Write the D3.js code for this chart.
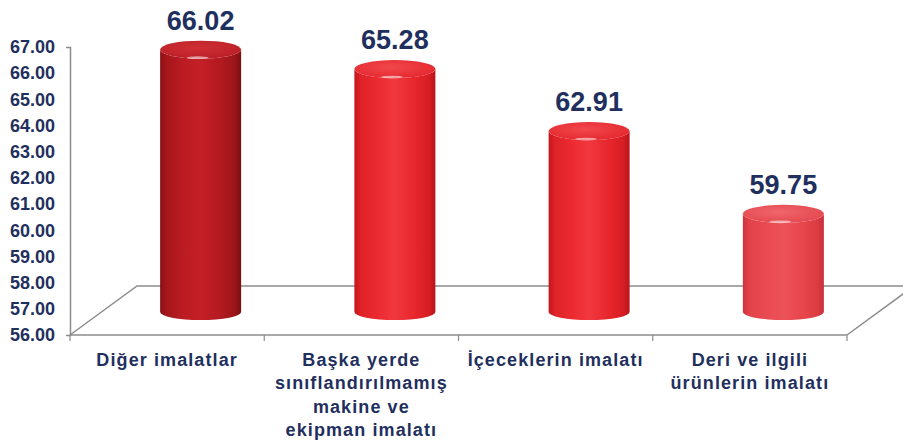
<!DOCTYPE html>
<html>
<head>
<meta charset="utf-8">
<script src="https://cdn.jsdelivr.net/npm/d3@7"></script>
<style>
  body { margin: 0; background: #ffffff; }
  text { font-family: "Liberation Sans", Arial, sans-serif; font-weight: bold; fill: #1f2f5e; }
</style>
</head>
<body>
<div id="chart_area"></div>
<script>

// chart data
var categories = ["Diğer imalatlar", "Başka yerde sınıflandırılmamış makine ve ekipman imalatı", "İçeceklerin imalatı", "Deri ve ilgili ürünlerin imalatı"];
var categoryLines = [
    ["Diğer imalatlar"],
    ["Başka yerde", "sınıflandırılmamış", "makine ve", "ekipman imalatı"],
    ["İçeceklerin imalatı"],
    ["Deri ve ilgili", "ürünlerin imalatı"]
];
var values = [66.02, 65.28, 62.91, 59.75];
var yTicks = [56, 57, 58, 59, 60, 61, 62, 63, 64, 65, 66, 67];
var barColors = ["dark", "red", "red", "light"];

var width = 903,
    height = 444;

var svg = d3.select("#chart_area").append("svg")
    .attr("width", width)
    .attr("height", height);

// plot area (front plane)
var plotLeft = 70, plotRight = 847, plotTop = 47, plotBottom = 335;
// 3d depth of the floor
var depthX = 67, depthY = 49;

var x = d3.scaleBand()
    .domain(d3.range(categories.length))
    .range([plotLeft, plotRight]);

var y = d3.scaleLinear()
    .domain([56, 67])
    .range([plotBottom, plotTop]);

// gradients for the cylinders
var palettes = {
    dark:  { side: ["#8a1115", "#a5161c", "#bd1c23", "#c31f26", "#b21a20", "#9b151a", "#7c0e12"], top: ["#cf3036", "#b81d23"] },
    red:   { side: ["#c4161c", "#de2329", "#ec2b31", "#f0383e", "#e7262c", "#d71e24", "#b8151a"], top: ["#f2484d", "#e2252b"] },
    light: { side: ["#cf333a", "#e2424a", "#ea4b52", "#ed5259", "#e8454c", "#dc3b42", "#c6313a"], top: ["#f0666c", "#e2444b"] }
};
var stopOffsets = [0, 0.08, 0.3, 0.5, 0.75, 0.92, 1];

var defs = svg.append("defs");
Object.keys(palettes).forEach(function(key) {
    var g = defs.append("linearGradient")
        .attr("id", "side_" + key)
        .attr("x1", 0).attr("x2", 1).attr("y1", 0).attr("y2", 0);
    palettes[key].side.forEach(function(c, i) {
        g.append("stop").attr("offset", stopOffsets[i]).attr("stop-color", c);
    });
    var r = defs.append("radialGradient")
        .attr("id", "top_" + key)
        .attr("cx", 0.45).attr("cy", 0.4).attr("r", 0.7);
    r.append("stop").attr("offset", 0).attr("stop-color", palettes[key].top[0]);
    r.append("stop").attr("offset", 1).attr("stop-color", palettes[key].top[1]);
});

//draw floor
var floor = svg.append("g")
    .attr("class", "floor")
    .style("fill", "none")
    .style("stroke", "#8c8c8c")
    .style("stroke-width", 1.5);

floor.append("path")
    .attr("d", "M" + plotLeft + "," + plotBottom +
        "L" + (plotLeft + depthX) + "," + (plotBottom - depthY) +
        "L" + (plotRight + depthX) + "," + (plotBottom - depthY) +
        "L" + plotRight + "," + plotBottom);

// x axis along the front edge of the floor
var xAxis = svg.append("g")
    .attr("transform", "translate(0," + plotBottom + ")");

xAxis.append("line")
    .attr("x1", plotLeft).attr("x2", plotRight)
    .style("stroke", "#8c8c8c")
    .style("stroke-width", 1.5);

xAxis.selectAll(".xtick")
    .data(d3.range(categories.length + 1))
    .enter().append("line")
    .attr("class", "xtick")
    .attr("x1", function(d) { return plotLeft + d * x.bandwidth(); })
    .attr("x2", function(d) { return plotLeft + d * x.bandwidth(); })
    .attr("y1", 0).attr("y2", 6)
    .style("stroke", "#8c8c8c")
    .style("stroke-width", 1.2);

// category labels
var catLabels = svg.selectAll(".catlabel")
    .data(categoryLines)
    .enter().append("text")
    .attr("class", "catlabel")
    .attr("text-anchor", "middle")
    .style("font-size", "18px")
    .style("letter-spacing", "1.1px");

catLabels.selectAll("tspan")
    .data(function(d, i) { return d.map(function(line) { return { line: line, i: i }; }); })
    .enter().append("tspan")
    .attr("x", function(d) { return x(d.i) + x.bandwidth() / 2; })
    .attr("y", function(d, j) { return 366 + j * 23.3; })
    .text(function(d) { return d.line; });

// y axis
var yAxis = d3.axisLeft(y)
    .tickValues(yTicks)
    .tickFormat(d3.format(".2f"))
    .tickSizeInner(0)
    .tickSizeOuter(4)
    .tickPadding(15);

var yAxisG = svg.append("g")
    .attr("transform", "translate(" + plotLeft + ",0)")
    .call(yAxis);

yAxisG.select(".domain")
    .style("stroke", "#8c8c8c")
    .style("stroke-width", 1.5);

yAxisG.selectAll("text")
    .style("font-family", "'Liberation Sans', Arial, sans-serif")
    .style("font-weight", "bold")
    .style("font-size", "18px")
    .style("fill", "#1f2f5e");

// cylinders
var barWidth = 81, ryBottom = 8, ryTop = 9;
var barShiftX = depthX / 2, barShiftY = depthY / 2 - 1.5;

function cylinderSide(d, i) {
    var cx = x(i) + x.bandwidth() / 2 + barShiftX;
    var l = cx - barWidth / 2, r = cx + barWidth / 2;
    var yb = y(56) - barShiftY, yt = y(d) - barShiftY;
    var rx = barWidth / 2;
    return "M" + l + "," + yt +
        "L" + l + "," + yb +
        "A" + rx + "," + ryBottom + " 0 0 0 " + r + "," + yb +
        "L" + r + "," + yt +
        "A" + rx + "," + ryTop + " 0 0 1 " + l + "," + yt + "Z";
}

var bars = svg.selectAll(".bar")
    .data(values)
    .enter().append("g")
    .attr("class", "bar");

bars.append("path")
    .attr("d", cylinderSide)
    .style("fill", function(d, i) { return "url(#side_" + barColors[i] + ")"; });

bars.append("ellipse")
    .attr("cx", function(d, i) { return x(i) + x.bandwidth() / 2 + barShiftX; })
    .attr("cy", function(d) { return y(d) - barShiftY; })
    .attr("rx", barWidth / 2)
    .attr("ry", ryTop)
    .style("fill", function(d, i) { return "url(#top_" + barColors[i] + ")"; });

// small highlight on the rim of the top
bars.append("ellipse")
    .attr("cx", function(d, i) { return x(i) + x.bandwidth() / 2 + barShiftX - 3; })
    .attr("cy", function(d) { return y(d) - barShiftY + ryTop - 1; })
    .attr("rx", 11)
    .attr("ry", 1.4)
    .style("fill", "#ffffff")
    .style("opacity", 0.55);

// value labels
svg.selectAll(".valuelabel")
    .data(values)
    .enter().append("text")
    .attr("class", "valuelabel")
    .attr("text-anchor", "middle")
    .attr("x", function(d, i) { return x(i) + x.bandwidth() / 2 + barShiftX; })
    .attr("y", function(d) { return y(d) - 43; })
    .style("font-size", "27px")
    .text(function(d) { return d3.format(".2f")(d); });

</script>
</body>
</html>
